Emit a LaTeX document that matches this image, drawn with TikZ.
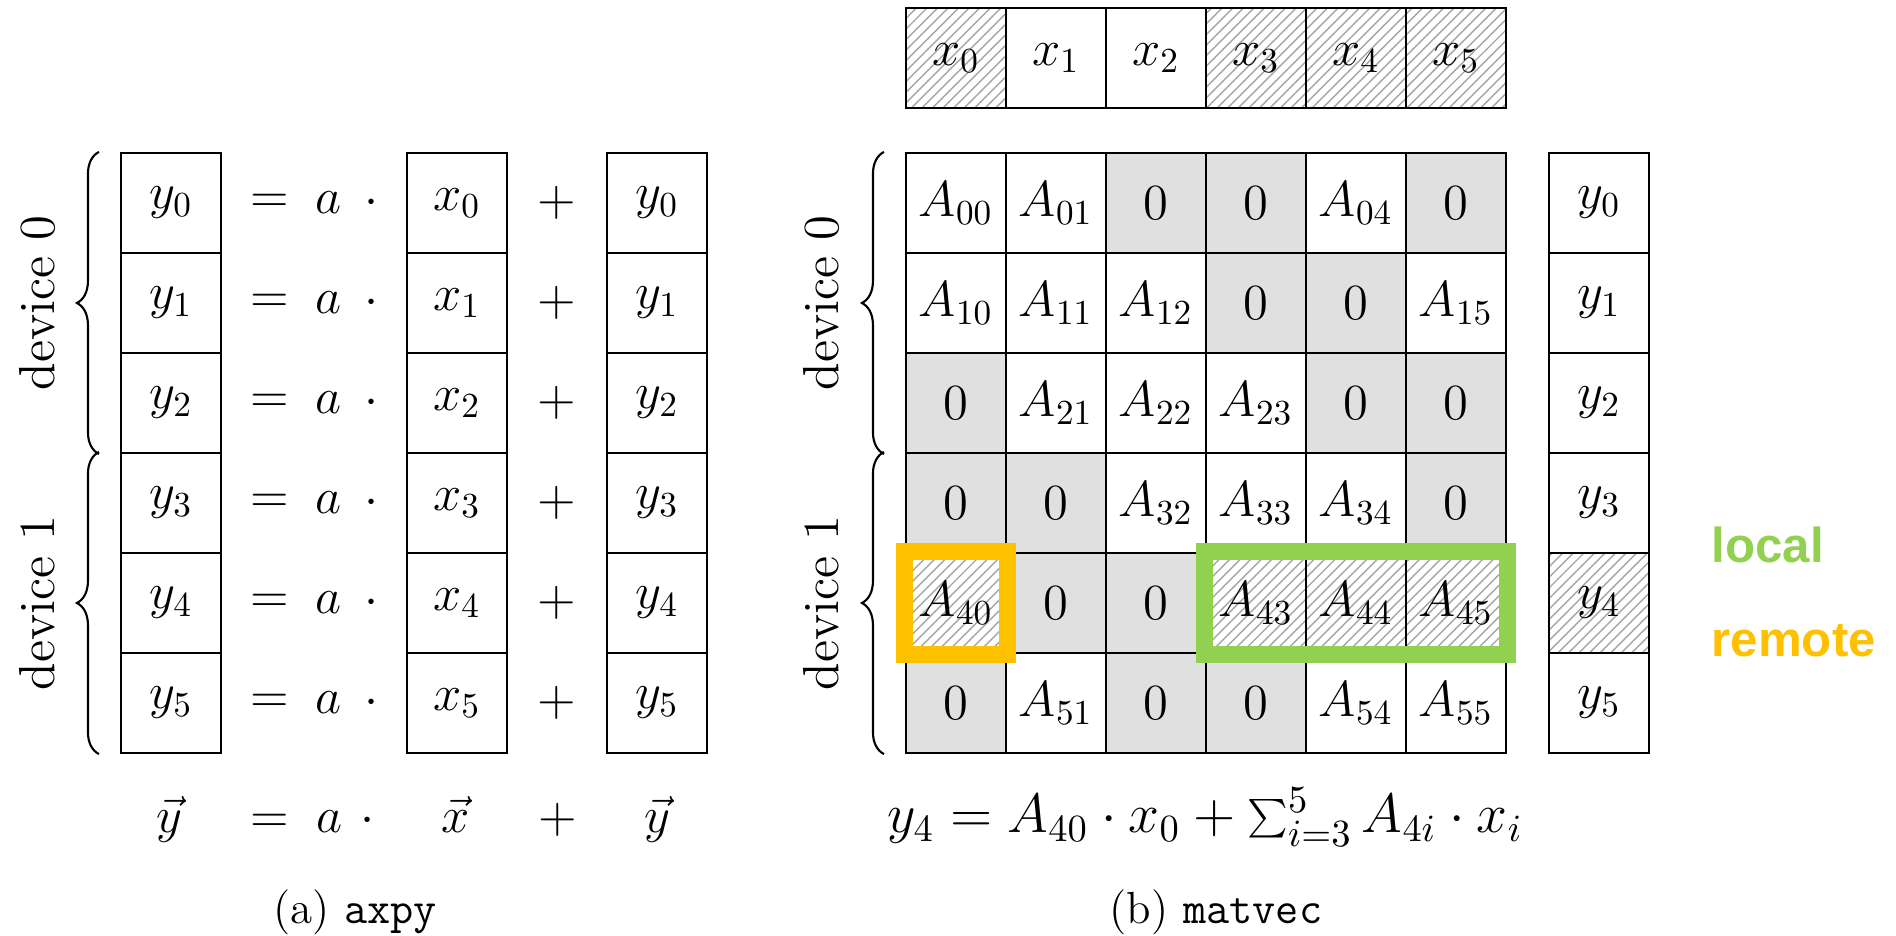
\documentclass[tikz,border=0pt]{standalone}
\usepackage{fontspec}
\usepackage{graphicx}
\newfontfamily\lblfont{Liberation Sans}
\usetikzlibrary{patterns,decorations.pathreplacing,calc}
\definecolor{zerogray}{RGB}{224,224,224}
\definecolor{localgreen}{RGB}{146,208,80}
\definecolor{remoteorange}{RGB}{255,192,0}
\newcommand\mcell[4]{\node[#3] (m-#1-#2) at ({9.56+#2},{7.32-#1}) {$#4$};}
\begin{document}
\begin{tikzpicture}[
  cell/.style={draw, line width=0.6pt, minimum width=1cm, minimum height=1cm, inner sep=0pt, font=\Large, anchor=center},
  zero/.style={cell, fill=zerogray},
  hatched/.style={cell, pattern=north east lines, pattern color=gray!70},
  op/.style={font=\Large, inner sep=0pt},
  bot/.style={font=\Large, inner sep=0pt, anchor=base},
  devlabel/.style={font=\Large, rotate=90, inner sep=0pt},
  devbrace/.style={decorate, decoration={brace, amplitude=0.22cm}, line width=0.6pt},
  hl/.style={line width=0.17cm},
  capt/.style={font=\fontsize{12.8}{15}\selectfont, anchor=base, inner sep=0pt},
  keylabel/.style={font=\lblfont\bfseries\fontsize{14}{16}\selectfont, anchor=base west, inner sep=0pt}
]
\useasboundingbox (0,0) rectangle (18.96,9.35);

% ---------- (a) axpy ----------
\foreach \r in {0,...,5} {
  \pgfmathsetmacro\yy{7.32-\r}
  \node[cell] (ly\r) at (1.71,\yy) {$y_{\r}$};
  \node[op] (eq\r) at (2.70,\yy) {$=$};
  \node[op] (a\r) at (3.29,\yy) {$a$};
  \node[op] (dot\r) at (3.72,\yy) {$\cdot$};
  \node[cell] (lx\r) at (4.57,\yy) {$x_{\r}$};
  \node[op] (plus\r) at (5.57,\yy) {$+$};
  \node[cell] (lyr\r) at (6.57,\yy) {$y_{\r}$};
}
\draw[devbrace] ($(ly2.south west)+(-0.21,0)$) -- ($(ly0.north west)+(-0.21,0)$);
\draw[devbrace] ($(ly5.south west)+(-0.21,0)$) -- ($(ly3.north west)+(-0.21,0)$);
\node[devlabel] (dev0a) at (0.37,6.32) {device 0};
\node[devlabel] (dev1a) at (0.37,3.32) {device 1};

\node[bot] (vy1) at (1.69,1.02) {$\vec{y}$};
\node[bot] (veq) at (2.70,1.02) {$=$};
\node[bot] (va) at (3.30,1.02) {$a$};
\node[bot] (vdot) at (3.68,1.02) {$\cdot$};
\node[bot] (vx) at (4.56,1.02) {$\vec{x}$};
\node[bot] (vplus) at (5.58,1.02) {$+$};
\node[bot] (vy2) at (6.57,1.02) {$\vec{y}$};
\node[capt] (capa) at (3.55,0.12) {(a) \texttt{axpy}};

% ---------- (b) matvec ----------
% top x vector
\foreach \c/\s in {0/hatched,1/cell,2/cell,3/hatched,4/hatched,5/hatched} {
  \node[\s] (tx\c) at ({9.56+\c},8.77) {$x_{\c}$};
}
% matrix
\mcell{0}{0}{cell}{A_{00}} \mcell{0}{1}{cell}{A_{01}} \mcell{0}{2}{zero}{0}
\mcell{0}{3}{zero}{0} \mcell{0}{4}{cell}{A_{04}} \mcell{0}{5}{zero}{0}
\mcell{1}{0}{cell}{A_{10}} \mcell{1}{1}{cell}{A_{11}} \mcell{1}{2}{cell}{A_{12}}
\mcell{1}{3}{zero}{0} \mcell{1}{4}{zero}{0} \mcell{1}{5}{cell}{A_{15}}
\mcell{2}{0}{zero}{0} \mcell{2}{1}{cell}{A_{21}} \mcell{2}{2}{cell}{A_{22}}
\mcell{2}{3}{cell}{A_{23}} \mcell{2}{4}{zero}{0} \mcell{2}{5}{zero}{0}
\mcell{3}{0}{zero}{0} \mcell{3}{1}{zero}{0} \mcell{3}{2}{cell}{A_{32}}
\mcell{3}{3}{cell}{A_{33}} \mcell{3}{4}{cell}{A_{34}} \mcell{3}{5}{zero}{0}
\mcell{4}{0}{hatched}{A_{40}} \mcell{4}{1}{zero}{0} \mcell{4}{2}{zero}{0}
\mcell{4}{3}{hatched}{A_{43}} \mcell{4}{4}{hatched}{A_{44}} \mcell{4}{5}{hatched}{A_{45}}
\mcell{5}{0}{zero}{0} \mcell{5}{1}{cell}{A_{51}} \mcell{5}{2}{zero}{0}
\mcell{5}{3}{zero}{0} \mcell{5}{4}{cell}{A_{54}} \mcell{5}{5}{cell}{A_{55}}
% right y vector
\foreach \r in {0,1,2,3,5} {
  \node[cell] (ry\r) at (15.99,{7.32-\r}) {$y_{\r}$};
}
\node[hatched] (ry4) at (15.99,3.32) {$y_{4}$};

\draw[devbrace] ($(m-2-0.south west)+(-0.21,0)$) -- ($(m-0-0.north west)+(-0.21,0)$);
\draw[devbrace] ($(m-5-0.south west)+(-0.21,0)$) -- ($(m-3-0.north west)+(-0.21,0)$);
\node[devlabel] (dev0b) at (8.21,6.32) {device 0};
\node[devlabel] (dev1b) at (8.21,3.32) {device 1};

% highlight frames
\draw[hl, remoteorange] (m-4-0.south west) rectangle (m-4-0.north east);
\draw[hl, localgreen] (m-4-3.south west) rectangle (m-4-5.north east);

\node[keylabel, text=localgreen] (loc) at (17.11,3.72) {local};
\node[keylabel, text=remoteorange] (rem) at (17.11,2.78) {remote};

\node[bot] (formula) at (12.05,1.02) {\scalebox{1.095}{$y_4 = A_{40}\cdot x_0 + \sum_{i=3}^{5} A_{4i}\cdot x_i$}};
\node[capt] (capb) at (12.16,0.12) {(b) \texttt{matvec}};
\end{tikzpicture}
\end{document}
